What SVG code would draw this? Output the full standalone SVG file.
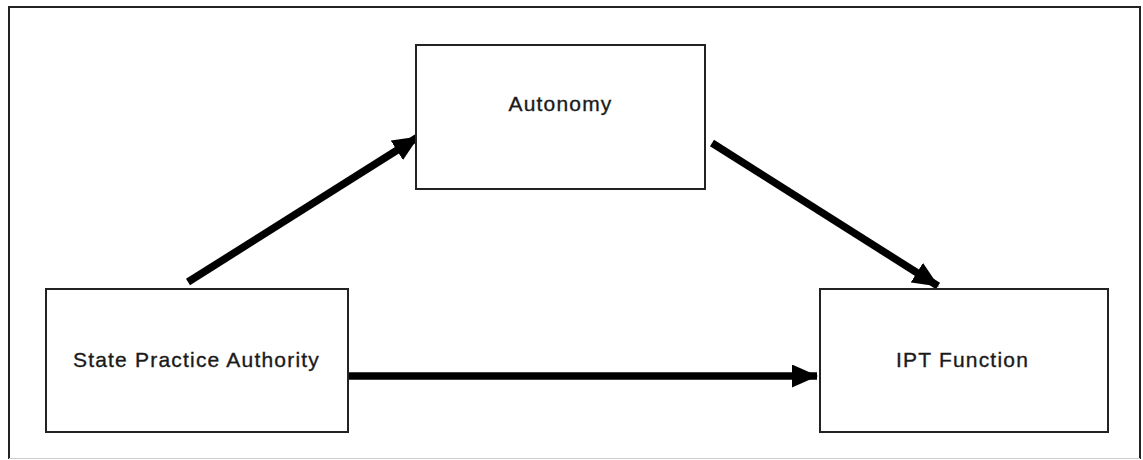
<svg xmlns="http://www.w3.org/2000/svg" width="1143" height="460" viewBox="0 0 1143 460">
  <style>
    .box { fill: #ffffff; stroke: #222222; stroke-width: 2; }
    .label { font-family: "Liberation Sans", Arial, sans-serif; font-size: 21px; letter-spacing: 1.2px; fill: #1a1a1a; stroke: #1a1a1a; stroke-width: 0.35; text-anchor: middle; }
    .conn { stroke: #000000; stroke-width: 7.5; fill: none; marker-end: url(#arrow); }
  </style>
  <defs>
    <marker id="arrow" markerUnits="userSpaceOnUse" viewBox="0 0 26 23" refX="25" refY="11.5" markerWidth="26" markerHeight="23" orient="auto">
      <path d="M0,0 L26,11.5 L0,23 Z" fill="#000000"/>
    </marker>
  </defs>
  <rect x="0" y="0" width="1143" height="460" fill="#ffffff"/>
  <g id="frame">
    <path d="M9,459 L9,7 L1140,7 L1140,459" fill="none" stroke="#222222" stroke-width="2"/>
    <path d="M9,458.5 L1140,458.5" fill="none" stroke="#cccccc" stroke-width="1"/>
  </g>
  <g id="connectors">
    <line class="conn" x1="188" y1="282" x2="418" y2="137"/>
    <line class="conn" x1="712" y1="143" x2="938" y2="286"/>
    <line class="conn" x1="348" y1="376" x2="817" y2="376"/>
  </g>
  <g id="node-autonomy">
    <rect class="box" x="416" y="45" width="289" height="144"/>
    <text class="label" x="560.5" y="110.5">Autonomy</text>
  </g>
  <g id="node-spa">
    <rect class="box" x="46" y="289" width="302" height="143"/>
    <text class="label" x="196.5" y="367">State Practice Authority</text>
  </g>
  <g id="node-ipt">
    <rect class="box" x="820" y="289" width="288" height="143"/>
    <text class="label" x="962.5" y="367">IPT Function</text>
  </g>
</svg>
